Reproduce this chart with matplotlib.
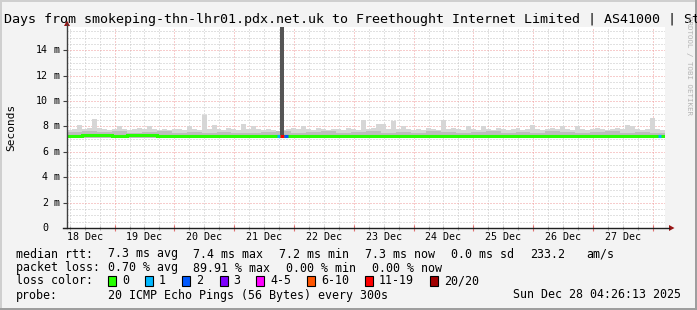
import matplotlib
matplotlib.use("Agg")
import matplotlib.pyplot as plt
from matplotlib.patches import Rectangle, Polygon
from matplotlib.lines import Line2D
import numpy as np

W, H = 697, 310
MONO = "DejaVu Sans Mono"

# --- daten (stunden ab linkem rand, 10 tage = 240 h) ---
span_h = 240
smoke_step = 2
smoke_hi = [7.7, 7.8, 8.1, 7.8, 7.9, 8.6, 7.9, 7.8, 7.7, 7.8,
            8.0, 7.8, 7.7, 7.8, 7.9, 7.8, 8.0, 7.8, 7.7, 7.8,
            7.7, 7.8, 7.8, 7.7, 8.0, 7.8, 7.7, 8.9, 7.8, 8.1,
            7.8, 7.7, 7.9, 7.8, 7.7, 8.2, 7.8, 8.0, 7.8, 7.7,
            7.8, 7.7, 7.6, 7.7, 7.8, 7.9, 7.8, 8.0, 7.8, 7.7,
            7.9, 7.8, 7.7, 7.8, 7.8, 7.7, 7.9, 7.8, 7.7, 8.5,
            7.8, 7.9, 8.2, 8.2, 7.8, 8.4, 7.8, 8.0, 7.8, 7.7,
            7.8, 7.7, 7.9, 7.8, 7.7, 8.5, 7.8, 7.9, 7.8, 7.7,
            8.0, 7.8, 7.7, 8.0, 7.8, 7.7, 7.9, 7.8, 7.7, 7.8,
            7.9, 7.7, 7.8, 8.1, 7.8, 7.7, 7.8, 7.9, 7.8, 8.0,
            7.8, 7.7, 8.0, 7.8, 7.7, 7.8, 7.9, 7.8, 7.7, 7.8,
            7.9, 7.8, 8.1, 8.0, 7.8, 7.7, 7.8, 8.7, 7.8, 7.7]
mid_step = 6
smoke_mid = [7.55, 7.6, 7.55, 7.6, 7.5, 7.55, 7.6, 7.5, 7.55, 7.5,
             7.55, 7.5, 7.5, 7.55, 7.6, 7.5, 7.55, 7.6, 7.5, 7.55,
             7.6, 7.5, 7.55, 7.5, 7.6, 7.55, 7.5, 7.55, 7.6, 7.5,
             7.55, 7.5, 7.6, 7.55, 7.5, 7.55, 7.6, 7.5, 7.55, 7.5]
smoke_floor = 7.05
median_step = 6
median = [7.26, 7.32, 7.32, 7.28, 7.32, 7.31, 7.25, 7.26, 7.25, 7.26,
          7.25, 7.25, 7.26, 7.25, 7.25, 7.26, 7.25, 7.25, 7.26, 7.25,
          7.26, 7.25, 7.25, 7.26, 7.25, 7.25, 7.26, 7.25, 7.25, 7.26,
          7.25, 7.26, 7.25, 7.25, 7.26, 7.25, 7.25, 7.26, 7.25, 7.25]

spike_start, spike_end, spike_top = 85.6, 86.9, 16.0

loss_start = [84.2, 85.5, 87.1, 237.0]
loss_end = [85.5, 87.1, 88.7, 238.3]
loss_level = ["1", "11-19", "2", "1"]

loss_labels = ["0", "1", "2", "3", "4-5", "6-10", "11-19", "20/20"]
loss_colors = ["#26ff00", "#00b8ff", "#0059ff", "#7e00ff",
               "#ff00ff", "#ff5500", "#ff0000", "#a10000"]
loss_map = dict(zip(loss_labels, loss_colors))

day_labels = ["18 Dec", "19 Dec", "20 Dec", "21 Dec", "22 Dec",
              "23 Dec", "24 Dec", "25 Dec", "26 Dec", "27 Dec"]
first_midnight = 19.1
y_ticks = [0, 2, 4, 6, 8, 10, 12, 14]
y_top = 15.83

title = "Days from smokeping-thn-lhr01.pdx.net.uk to Freethought Internet Limited | AS41000 | St"
rtt_stats = ["7.3 ms avg", "7.4 ms max", "7.2 ms min", "7.3 ms now", "0.0 ms sd", "233.2", "am/s"]
loss_stats = ["0.70 % avg", "89.91 % max", "0.00 % min", "0.00 % now"]
probe_text = "20 ICMP Echo Pings (56 Bytes) every 300s"
stamp = "Sun Dec 28 04:26:13 2025"


def fx(x):
    return x / W


def fy(y):
    return 1 - y / H


fig = plt.figure(figsize=(W / 100, H / 100), dpi=100)
fig.patch.set_facecolor("#f3f3f3")

# rahmen
fig.add_artist(Rectangle((0, fy(2)), 1, 2 / H, transform=fig.transFigure, color="#cfcfcf", lw=0))
fig.add_artist(Rectangle((0, 0), 2 / W, 1, transform=fig.transFigure, color="#cfcfcf", lw=0))
fig.add_artist(Rectangle((fx(695), 0), 2 / W, 1, transform=fig.transFigure, color="#9e9e9e", lw=0))
fig.add_artist(Rectangle((0, 0), 1, 2 / H, transform=fig.transFigure, color="#9e9e9e", lw=0))

ax = fig.add_axes([fx(67), fy(228), 598 / W, 201 / H])
ax.set_facecolor("white")
ax.set_xlim(0, span_h)
ax.set_ylim(0, y_top)
for s in ax.spines.values():
    s.set_visible(False)

# raster
midnights = np.arange(first_midnight, span_h, 24)
ax.set_xticks(midnights)
ax.set_xticks(np.arange(first_midnight - 18, span_h, 6), minor=True)
ax.set_yticks(y_ticks)
ax.set_yticks(np.arange(0, y_top, 0.5), minor=True)
ax.tick_params(labelbottom=False, labelleft=False)
ax.tick_params(axis="x", which="major", direction="inout", length=4, width=0.8, color="#e07070")
ax.tick_params(axis="x", which="minor", direction="inout", length=3, width=0.8, color="#b0b0b0")
ax.tick_params(axis="y", which="major", direction="out", length=3, width=0.8, color="#404040")
ax.tick_params(axis="y", which="minor", length=0)
ax.grid(which="minor", color="#c4c4c4", lw=0.72, ls=(0, (1, 2)))
ax.grid(which="major", color="#f09a9a", lw=0.72, ls=(0, (1, 2)))
ax.set_axisbelow(True)

# rauch
edges_s = np.arange(0, span_h, smoke_step)
hi = np.array(smoke_hi)
ax.bar(edges_s, hi - smoke_floor, bottom=smoke_floor, width=smoke_step,
       align="edge", color="#d6d6d6", lw=0, zorder=2)
edges_m = np.arange(0, span_h, mid_step)
ax.bar(edges_m, np.array(smoke_mid) - smoke_floor, bottom=smoke_floor, width=mid_step,
       align="edge", color="#bdbdbd", lw=0, zorder=2)
ax.bar([spike_start], [spike_top - smoke_floor], bottom=smoke_floor,
       width=spike_end - spike_start, align="edge", color="#555555", lw=0, zorder=3)

# median
ax.stairs(median, np.arange(0, span_h + 1, median_step), baseline=None,
          color=loss_map["0"], lw=2.2, zorder=4)
for a, b, lv in zip(loss_start, loss_end, loss_level):
    m = median[int(a // median_step)]
    ax.hlines(m, a, b, color=loss_map[lv], lw=2.2, zorder=5)

# achsenbeschriftung
for i, lab in enumerate(day_labels):
    ax.text(first_midnight - 12 + 24 * i, -0.045, lab, transform=ax.get_xaxis_transform(),
            ha="center", va="center", family=MONO, fontsize=7.2)
for v in y_ticks:
    ax.text(-19 / 598, v, str(v), transform=ax.get_yaxis_transform(),
            ha="right", va="center", family=MONO, fontsize=7.2)
    if v:
        ax.text(-14 / 598, v, "m", transform=ax.get_yaxis_transform(),
                ha="left", va="center", family=MONO, fontsize=7.2)

# achsen mit pfeilen
fig.add_artist(Line2D([fx(67), fx(67)], [fy(228), fy(24)], transform=fig.transFigure,
                      color="#404040", lw=1))
fig.add_artist(Line2D([fx(63), fx(669)], [fy(228), fy(228)], transform=fig.transFigure,
                      color="#202020", lw=1))
fig.add_artist(Polygon([(fx(64), fy(26)), (fx(70), fy(26)), (fx(67), fy(20.5))],
                       closed=True, transform=fig.transFigure, color="#991515", lw=0))
fig.add_artist(Polygon([(fx(669), fy(225)), (fx(669), fy(231)), (fx(674.5), fy(228))],
                       closed=True, transform=fig.transFigure, color="#991515", lw=0))

# titel, labels
fig.text(fx(4), fy(19), title, family=MONO, fontsize=9.6, ha="left", va="center")
fig.text(fx(11), fy(127), "Seconds", family=MONO, fontsize=8, rotation=90,
         ha="center", va="center")
fig.text(fx(689), fy(66), "RRDTOOL / TOBI OETIKER", family=MONO, fontsize=5.4,
         rotation=270, ha="center", va="center", color="#b4b4b4")

# legende
LS = 8.4
fig.text(fx(16), fy(254), "median rtt:", family=MONO, fontsize=LS, va="center")
for x, t in zip([107.6, 193, 279, 365, 451, 530, 586], rtt_stats):
    fig.text(fx(x), fy(254), t, family=MONO, fontsize=LS, va="center")
fig.text(fx(16), fy(268), "packet loss:", family=MONO, fontsize=LS, va="center")
for x, t in zip([107.6, 193, 286, 372], loss_stats):
    fig.text(fx(x), fy(268), t, family=MONO, fontsize=LS, va="center")
fig.text(fx(16), fy(281), "loss color:", family=MONO, fontsize=LS, va="center")
box_x = [108, 145, 182, 219.5, 256, 307, 365, 430]
for bx, lab, col in zip(box_x, loss_labels, loss_colors):
    fig.add_artist(Rectangle((fx(bx), fy(286)), 8 / W, 10 / H, transform=fig.transFigure,
                             facecolor=col, edgecolor="black", lw=0.8))
    fig.text(fx(bx + 14), fy(281), lab, family=MONO, fontsize=LS, va="center")
fig.text(fx(16), fy(295), "probe:", family=MONO, fontsize=LS, va="center")
fig.text(fx(107.6), fy(295), probe_text, family=MONO, fontsize=LS, va="center")
fig.text(fx(681), fy(295), stamp, family=MONO, fontsize=LS, va="center", ha="right")

fig.savefig("out.png", dpi=100, facecolor=fig.get_facecolor())
